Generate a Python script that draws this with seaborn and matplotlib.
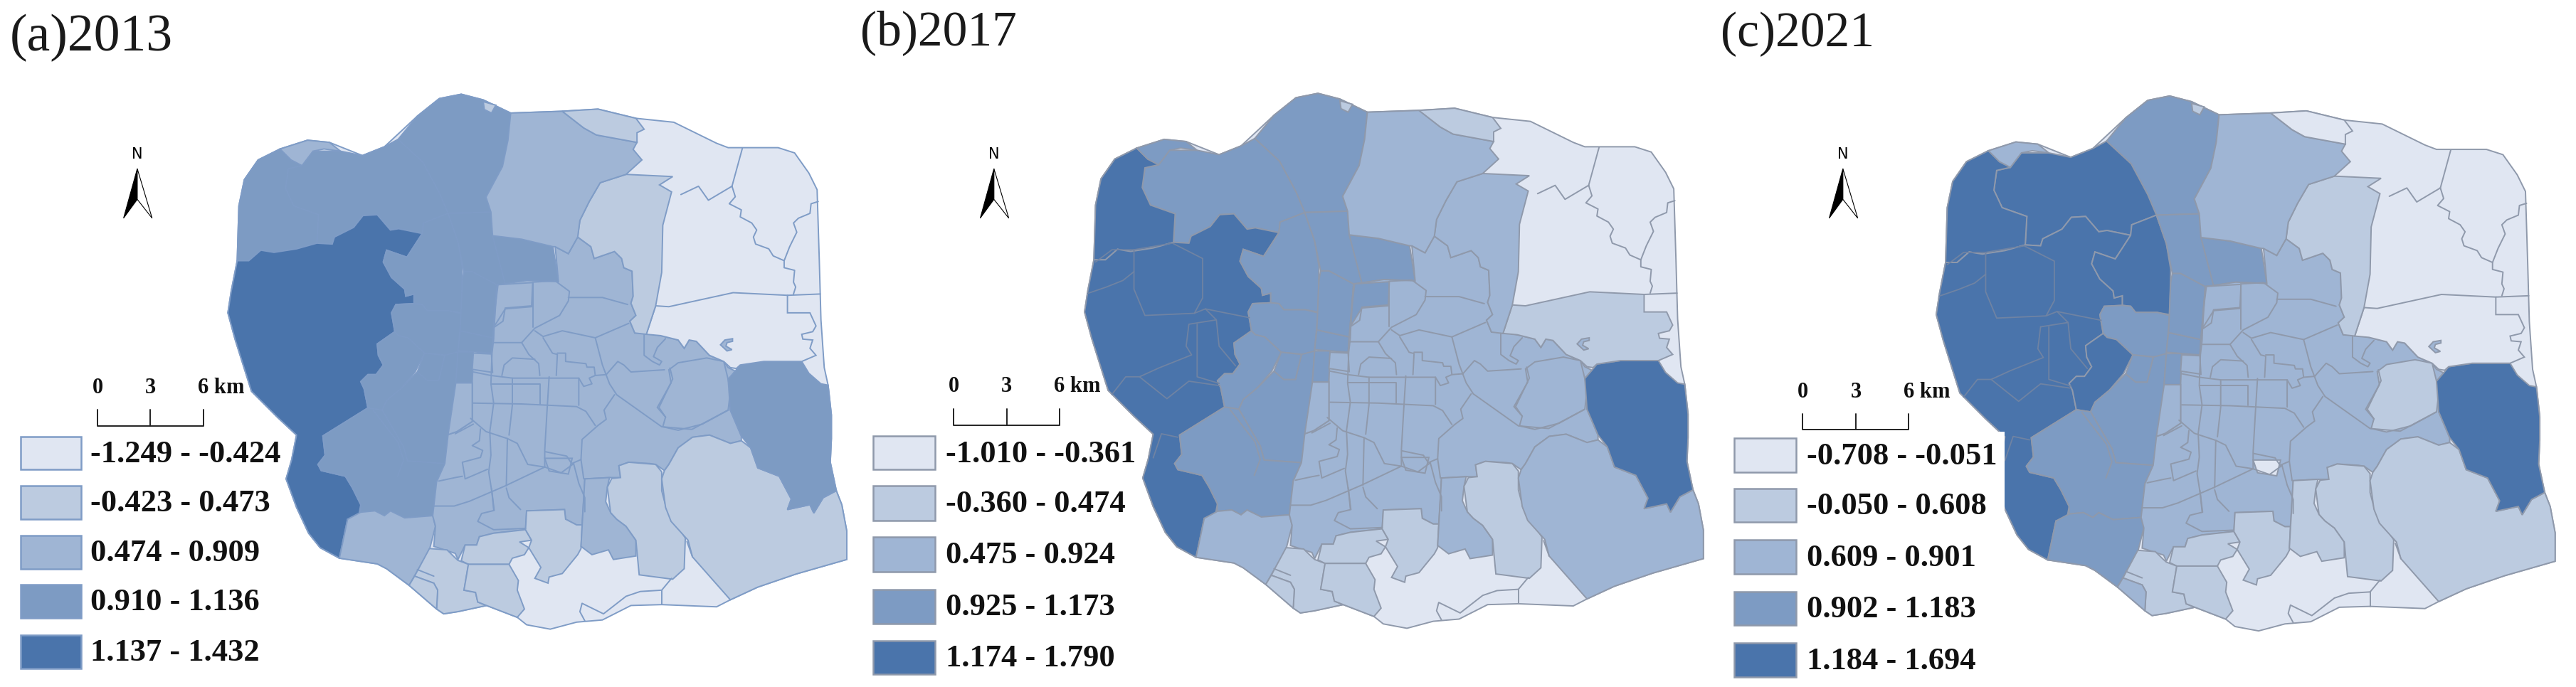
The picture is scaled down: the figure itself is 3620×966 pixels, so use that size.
#!/usr/bin/env python3

import numpy as np
import matplotlib
matplotlib.use("Agg")
import matplotlib.pyplot as plt
import seaborn as sns

#========= Data ===========
# region outlines are read off the picture, in the pixel grid of panel (a)

outline = [(840,215),(880,228),(930,258),(1020,254),(1089,249),(1158,270),(1227,279),(1305,327),(1326,337),(1417,337),
           (1447,349),(1473,395),(1488,433),(1492,595),(1495,730),(1501,839),(1508,879),(1514,947),(1514,1001),(1512,1055),
           (1523,1120),(1533,1152),(1542,1212),(1542,1277),(1450,1310),(1380,1340),(1330,1369),(1305,1385),(1205,1380),(1149,1382),
           (1097,1415),(1050,1420),(1002,1436),(959,1426),(942,1409),(886,1382),(834,1396),(808,1401),(795,1390),(745,1336),
           (704,1298),(687,1287),(618,1274),(583,1250),(562,1217),(540,1158),(521,1093),(531,1050),(540,993),(505,952),
           (458,893),(428,774),(415,714),(421,665),(432,595),(435,470),(445,410),(470,365),(510,340),(560,320),
           (600,325),(660,355),(700,335),(760,265),(800,225)]
north_top = [(725,318),(760,265),(800,225),(840,215),(880,228),(930,258),(925,320),(915,380),(885,450),(894,484),(816,487),(800,440),(770,370)]
nw_centre = [(725,318),(770,370),(800,440),(816,487),(771,509),(769,533),(726,522),(711,525),(687,490),(661,492),(644,519),(609,541),(605,557),(577,555),
             (580,490),(535,470),(520,430),(525,385),(550,378),(570,345),(620,345),(660,355),(700,335)]
nw_corner = [(432,595),(453,595),(475,571),(499,576),(540,568),(577,555),(580,490),(535,470),(520,430),(525,385),(550,378),(530,365),(510,340),(470,365),(445,410),(435,470)]
nw_blob = [(510,340),(560,320),(600,325),(620,345),(590,340),(570,345),(550,378),(530,365)]
west_main = [(432,595),(453,595),(475,571),(499,576),(540,568),(577,555),(605,557),(609,541),(644,519),(661,492),(687,490),(711,525),(726,522),(769,533),
             (741,587),(704,571),(698,598),(713,633),(737,660),(739,676),(754,671),(754,693),(721,695),(713,714),(719,757),(687,785),(689,811),(698,833),
             (685,855),(670,855),(657,871),(663,887),(670,931),(588,995),(592,1039),(579,1060),(585,1074),(629,1087),(642,1114),(657,1152),(652,1185),(633,1185),
             (618,1274),(583,1250),(562,1217),(540,1158),(521,1093),(531,1050),(540,993),(505,952),(458,893),(428,774),(415,714),(421,665)]
east_1 = [(769,533),(771,509),(816,487),(834,552),(842,611),(840,714),(817,709),(778,709),(769,695),(754,693),(754,671),(739,676),(737,660),(713,633),(698,598),(704,571),(741,587)]
east_2 = [(721,695),(754,693),(769,695),(778,709),(817,709),(840,716),(834,803),(817,811),(773,806),(743,771),(726,766),(719,757),(713,714)]
east_3 = [(719,757),(726,766),(743,771),(773,806),(756,849),(730,887),(704,914),(696,936),(670,931),(663,887),(657,871),(670,855),(685,855),(698,833),(689,811),(687,785)]
east_4 = [(773,806),(810,811),(799,868),(778,868),(760,849)]
east_5 = [(834,803),(810,811),(799,868),(778,868),(760,849),(730,887),(704,914),(696,936),(735,1020),(742,1052),(810,1058),(818,1000),(830,874)]
south_west = [(588,995),(670,931),(696,936),(735,1020),(742,1052),(810,1058),(795,1100),(788,1177),(737,1182),(711,1166),(700,1177),(683,1166),(657,1169),
              (657,1152),(642,1114),(629,1087),(585,1074),(579,1060),(592,1039)]
south_wedge = [(633,1185),(657,1169),(683,1166),(700,1177),(711,1166),(737,1182),(788,1177),(793,1201),(782,1255),(745,1336),(704,1298),(687,1287),(618,1274)]
col_a = [(834,803),(862,803),(860,874),(830,874)]
col_b = [(838,755),(897,771),(895,806),(834,800)]
col_c = [(845,620),(860,620),(905,650),(897,771),(838,755),(842,640)]
col_d = [(816,487),(894,484),(897,535),(920,648),(905,650),(860,620),(845,620),(834,552)]
ne_piece = [(897,538),(950,546),(1007,563),(1017,643),(960,640),(920,648)]
centre = [(905,650),(960,640),(1017,643),(1011,563),(1035,579),(1052,541),(1076,563),(1082,590),(1119,574),(1132,590),(1136,611),(1151,619),(1153,676),(1149,692),
          (1158,720),(1147,733),(1156,760),(1175,760),(1203,766),(1235,776),(1246,795),(1255,776),(1268,779),(1292,811),(1318,825),(1326,839),(1339,847),(1326,866),
          (1330,936),(1350,995),(1350,1006),(1330,1012),(1292,993),(1261,998),(1235,1022),(1218,1060),(1210,1074),(1194,1060),(1184,1058),(1145,1055),(1127,1063),
          (1130,1090),(1110,1090),(1065,1093),(1060,1198),(1050,1198),(1030,1185),(1028,1163),(959,1166),(957,1209),(899,1217),(873,1225),(868,1244),(847,1244),
          (834,1277),(829,1263),(790,1247),(793,1201),(788,1177),(795,1100),(810,1058),(816,992),(832,985),(860,962),(860,874),(862,806),(895,806),(897,771)]
strip_light = [(830,874),(860,874),(860,962),(832,985),(816,992)]
cell_light = [(862,806),(895,808),(897,850),(860,843)]
cell_north = [(905,650),(970,645),(968,700),(920,705),(900,745)]
cell_south = [(992,1046),(1042,1046),(1035,1082),(1000,1075)]
oval_cell = [(1218,844),(1222,874),(1197,930),(1212,952),(1207,974),(1235,982),(1279,968),(1326,936),(1330,893),(1326,866),(1318,825),(1287,817),(1235,828)]
s_cell_a = [(840,1280),(847,1244),(868,1244),(873,1225),(899,1217),(957,1209),(968,1233),(946,1237),(963,1250),(955,1266),(933,1274),(927,1288),(853,1288)]
s_cell_b = [(782,1252),(814,1255),(827,1271),(834,1279),(853,1288),(845,1347),(866,1352),(870,1374),(886,1382),(834,1396),(808,1401),(795,1390),(797,1347),(790,1331),(755,1315)]
s_cell_c = [(755,1315),(790,1331),(797,1347),(795,1390),(745,1336)]
s_cell_d = [(853,1288),(927,1288),(944,1325),(942,1347),(955,1390),(942,1409),(886,1382),(870,1374),(866,1352),(845,1347)]
s_cell_e = [(959,1166),(1028,1163),(1030,1185),(1050,1198),(1060,1198),(1058,1252),(1052,1266),(1024,1309),(1000,1317),(998,1331),(974,1320),(985,1295),(963,1250),(968,1233),(957,1209)]
south_strip = [(1065,1093),(1110,1090),(1106,1112),(1103,1145),(1112,1170),(1123,1185),(1140,1201),(1158,1233),(1158,1269),(1117,1277),(1108,1255),(1078,1266),(1058,1247)]
south_block = [(1114,1092),(1130,1090),(1127,1063),(1145,1055),(1194,1060),(1205,1077),(1205,1120),(1214,1163),(1248,1228),(1246,1298),(1225,1322),(1164,1312),(1158,1233),(1140,1201),(1123,1185),(1112,1170),(1106,1112)]
south_east = [(1205,1093),(1210,1074),(1218,1060),(1235,1022),(1261,998),(1292,993),(1330,1012),(1350,1006),(1367,1022),(1380,1068),(1419,1087),(1441,1139),(1434,1163),(1475,1152),(1482,1171),
              (1499,1136),(1523,1120),(1533,1152),(1542,1212),(1542,1277),(1450,1310),(1380,1340),(1330,1369),(1261,1271),(1253,1233),(1222,1190),(1212,1158)]
east_block = [(1348,833),(1391,825),(1460,825),(1473,852),(1495,876),(1508,879),(1514,947),(1514,1001),(1512,1055),(1523,1120),(1499,1136),(1482,1171),(1475,1152),(1434,1163),
              (1441,1139),(1419,1087),(1380,1068),(1367,1022),(1350,995),(1330,936),(1326,866),(1339,847)]
band_east = [(1194,698),(1218,700),(1335,668),(1434,674),(1434,714),(1475,714),(1486,744),(1480,757),(1460,763),(1462,774),(1480,776),(1475,795),(1486,811),(1460,825),(1391,825),
             (1348,833),(1341,841),(1330,839),(1318,825),(1292,811),(1268,779),(1255,776),(1246,795),(1235,776),(1203,766),(1177,763)]
hook = [(1334,773),(1320,776),(1312,787),(1324,801),(1333,798),(1322,790),(1324,782),(1334,779)]
north_band = [(1093,417),(1140,398),(1225,403),(1201,422),(1223,438),(1207,514),(1205,622),(1194,698),(1177,763),(1156,760),(1147,733),(1158,720),(1149,692),(1153,676),(1151,619),
              (1136,611),(1132,590),(1119,574),(1082,590),(1076,563),(1052,541),(1056,503),(1073,460)]
north_main = [(930,258),(1024,254),(1063,292),(1086,308),(1160,325),(1153,341),(1169,365),(1140,398),(1093,417),(1073,460),(1056,503),(1052,541),(1035,579),(1011,563),(1007,563),(950,546),(897,538),
              (894,484),(885,450),(915,380),(925,320)]
north_cap = [(1024,254),(1089,249),(1158,270),(1173,295),(1160,303),(1160,325),(1086,308),(1063,292)]
top_chip = [(880,232),(903,240),(895,258),(882,250)]
top_nick = [(953,262),(972,262),(960,278)]

REGIONS = [outline, north_top, nw_centre, nw_corner, nw_blob, top_chip, top_nick, west_main, east_1, east_2, east_3, east_5, east_4,
           south_west, south_wedge, col_a, col_b, col_c, col_d, ne_piece, centre, strip_light, cell_light, cell_north, cell_south,
           oval_cell, s_cell_a, s_cell_b, s_cell_c, s_cell_d, s_cell_e, south_strip, south_block, south_east, east_block, band_east,
           hook, north_band, north_main, north_cap]
CLASS_2013 = [1,4,4,4,3,2,2,5,4,4,4,4,4,4,3,4,4,4,4,4,3,3,3,3,3,3,2,2,2,2,2,3,2,2,4,1,3,2,3,2]
CLASS_2017 = [1,4,4,5,4,2,2,5,4,4,4,4,4,4,3,4,4,4,4,4,3,3,3,4,3,3,2,2,2,2,2,3,2,3,5,2,3,3,3,2]
CLASS_2021 = [1,4,5,5,3,2,2,5,5,4,5,4,4,4,4,4,4,4,4,4,3,3,3,3,1,2,2,2,3,2,2,2,2,2,5,1,3,2,3,1]

# boundaries between sub-districts
street_lines = [
    [(907,649),(901,709),(899,774),(896,806),(894,876),(899,920),(892,985),(894,1039),(890,1077),(896,1125),(899,1163)],
    [(970,644),(970,747)],
    [(970,644),(1011,641),(1037,665),(1035,687),(1019,720),(974,749),(950,782),(899,782)],
    [(968,698),(920,703),(916,733),(901,746)],
    [(1035,679),(1097,679),(1143,695)],
    [(974,755),(989,768),(1024,755),(1084,771),(1145,738)],
    [(989,771),(1006,806),(1015,809),(1013,857)],
    [(1015,806),(1030,806),(1030,825),(1067,830),(1069,838),(1082,838),(1084,857)],
    [(1084,771),(1097,833),(1110,876),(1123,901),(1205,974),(1260,980),(1326,936)],
    [(950,782),(963,809),(981,830),(983,857)],
    [(974,820),(933,817),(918,833),(914,857)],
    [(862,849),(894,857),(933,863),(1054,863),(1054,925)],
    [(933,863),(933,925),(927,993)],
    [(894,876),(983,876),(983,922)],
    [(1000,860),(996,941),(992,1028),(992,1066)],
    [(862,920),(950,922),(1050,928),(1067,939),(1084,971)],
    [(1054,863),(1063,882),(1078,876),(1073,863),(1084,857),(1104,855),(1125,825),(1136,833),(1149,849),(1210,844)],
    [(1119,901),(1100,936),(1104,957),(1089,971),(1060,1003),(1058,1049),(1063,1093)],
    [(857,955),(885,985),(924,1001),(942,1012),(961,1060),(992,1066),(1022,1079),(1045,1058)],
    [(993,1031),(1032,1041),(1041,1058),(1058,1049)],
    [(924,1001),(922,1109)],
    [(992,1066),(920,1109),(855,1144),(827,1155),(790,1155)],
    [(1045,1060),(1054,1103),(1065,1136),(1065,1168)],
    [(922,1114),(927,1136),(948,1163)],
    [(862,968),(829,990)],
    [(875,979),(873,1006),(860,1017),(879,1028),(875,1044),(842,1055),(847,1093),(888,1071)],
    [(799,1098),(829,1090),(842,1087)],
    [(1173,763),(1173,811),(1188,825),(1201,833),(1205,825),(1190,814),(1197,793),(1212,773)],
    [(895,1115),(900,1165),(877,1172),(870,1190),(899,1209),(957,1206)],
    [(1220,840),(1225,865),(1200,930),(1212,952)],
    [(680,937),(725,1010),(735,1050),(724,1087)], [(760,1300),(790,1315)],
    [(1352,338),(1333,425)], [(1333,425),(1339,449),(1328,465),(1350,479),(1348,495),(1369,509),(1378,525),(1372,541),(1376,557),(1400,568),(1408,584),(1428,595),(1428,611),(1447,617),(1445,644),(1449,655),(1445,671)],
    [(1490,460),(1477,465),(1475,487),(1454,498),(1445,509),(1451,530),(1438,563),(1428,595)], [(1434,674),(1494,671)],
    [(1240,444),(1272,425),(1290,457),(1333,425)], [(1205,1347),(1205,1380)], [(1223,1320),(1205,1347),(1166,1350),(1140,1361),(1099,1401),(1060,1377),(1056,1396),(1065,1417)],
    [(1251,1236),(1261,1271)],
]
# extra boundaries that only show in the later years
west_lines = [
    [(435,600),(465,572),(505,572),(575,557),(630,592),(630,682),(615,717),(525,722),(505,662),(505,572)],
    [(420,672),(455,657),(485,642),(505,622)], [(615,717),(635,707),(715,727)],
    [(605,742),(600,792),(610,812),(550,842),(515,862),(490,862),(465,902)],
    [(620,742),(620,862),(660,877)], [(515,862),(565,912),(605,872),(660,882)],
    [(655,732),(660,792),(690,837)], [(635,707),(655,732),(605,742)], [(540,1047),(555,992),(585,1000)],
]

arrow_left = [(250,385),(225,498),(250,455)]
arrow_right = [(250,385),(277,498),(250,455)]

YEARS = ["(a)2013", "(b)2017", "(c)2021"]
LEGEND_2013 = ["-1.249 - -0.424", "-0.423 - 0.473", "0.474 - 0.909", "0.910 - 1.136", "1.137 - 1.432"]
LEGEND_2017 = ["-1.010 - -0.361", "-0.360 - 0.474", "0.475 - 0.924", "0.925 - 1.173", "1.174 - 1.790"]
LEGEND_2021 = ["-0.708 - -0.051", "-0.050 - 0.608", "0.609 - 0.901", "0.902 - 1.183", "1.184 - 1.694"]
SCALE_LABELS = ["0", "3", "6 km"]

#========= Style ===========
sns.set_theme(style="white")
plt.rcParams['font.family'] = ['Liberation Serif', 'DejaVu Serif']
palette = sns.color_palette(["#e0e6f2", "#bccbe0", "#9fb5d4", "#7d9bc3", "#4a74ab"])
edge_a = "#7f9cc6"
edge_bc = "#8f99ab"

panels = [
    dict(left=0,    year=0, classes=CLASS_2013, legend=LEGEND_2013, edge=edge_a,  dx=0,   dy=0,  title=(18,115), tsize=53, box_x=(38,148),
         box_y=[(997,1072),(1108,1185),(1222,1298),(1335,1410),(1450,1525)], text_x=165, bar_x=(178,274,370), bar_y=(935,972), north=0),
    dict(left=1200, year=1, classes=CLASS_2017, legend=LEGEND_2017, edge=edge_bc, dx=5,   dy=-2, title=(12,102), tsize=50, box_x=(35,148),
         box_y=[(995,1072),(1108,1188),(1225,1305),(1345,1423),(1463,1538)], text_x=167, bar_x=(182,278,374), bar_y=(933,970), north=5),
    dict(left=2410, year=2, classes=CLASS_2021, legend=LEGEND_2021, edge=edge_bc, dx=-12, dy=4,  title=(10,105), tsize=50, box_x=(35,148),
         box_y=[(1000,1077),(1115,1192),(1232,1310),(1350,1427),(1468,1545)], text_x=167, bar_x=(160,257,353), bar_y=(945,980), north=-17),
]

#========= Figure ===========
fig = plt.figure(figsize=(36.2, 9.66), dpi=100, facecolor="white")

for p in panels:
    ax = fig.add_axes([p["left"]/3620, 0, 1210/3620, 1])
    ax.set_xlim(0, 1568)
    ax.set_ylim(1568, 0)
    ax.axis("off")

    for shape, cls in zip(REGIONS, p["classes"]):
        pts = np.array(shape, dtype=float)
        ax.fill(pts[:, 0]+p["dx"], pts[:, 1]+p["dy"], facecolor=palette[cls-1], edgecolor=p["edge"], linewidth=1.4, zorder=2)

    for line in street_lines:
        pts = np.array(line, dtype=float)
        ax.plot(pts[:, 0]+p["dx"], pts[:, 1]+p["dy"], color=p["edge"], linewidth=1.4, zorder=3)

    if p["year"] > 0:
        for line in west_lines:
            pts = np.array(line, dtype=float)
            ax.plot(pts[:, 0]+p["dx"], pts[:, 1]+p["dy"], color="#6f83a3", linewidth=1.3, zorder=3)

    # legend panel covers the edge of the map in the last year
    if p["year"] == 2:
        ax.fill_between([20, 527], 985, 1400, color="white", linewidth=0, zorder=4)

    ax.text(p["title"][0], p["title"][1], YEARS[p["year"]], fontsize=p["tsize"], color="#1a1a1a", va="baseline", ha="left", zorder=6)

    # north arrow
    left = np.array(arrow_left, dtype=float)
    right = np.array(arrow_right, dtype=float)
    ax.fill(left[:, 0]+p["north"], left[:, 1], facecolor="black", edgecolor="black", linewidth=0.8, zorder=6)
    ax.fill(right[:, 0]+p["north"], right[:, 1], facecolor="white", edgecolor="black", linewidth=0.8, zorder=6)
    ax.text(250+p["north"], 352, "N", fontsize=15, family="DejaVu Sans", ha="center", va="center", color="black", zorder=6)

    # scale bar
    x0, x1, x2 = p["bar_x"]
    y0, y1 = p["bar_y"]
    ax.plot([x0, x0, x2, x2], [y0, y1, y1, y0], color="#222222", linewidth=1.4, zorder=6)
    ax.plot([x1, x1], [y0, y1], color="#222222", linewidth=1.4, zorder=6)
    for xpos, lab in zip(p["bar_x"], SCALE_LABELS):
        ax.text(xpos-10, y0-50, lab, fontsize=22, fontweight="bold", ha="left", va="center", color="#111111", zorder=6)

    # legend
    bx0, bx1 = p["box_x"]
    for i, ((by0, by1), lab) in enumerate(zip(p["box_y"], p["legend"])):
        ax.fill([bx0, bx1, bx1, bx0], [by0, by0, by1, by1], facecolor=palette[i], edgecolor=p["edge"], linewidth=1.8, zorder=6)
        ax.text(p["text_x"], (by0+by1)/2+3, lab, fontsize=32, fontweight="bold", ha="left", va="center", color="#111111", zorder=6)

sns.despine(fig=fig, left=True, bottom=True)
fig.savefig("out.png", dpi=100, facecolor="white")
